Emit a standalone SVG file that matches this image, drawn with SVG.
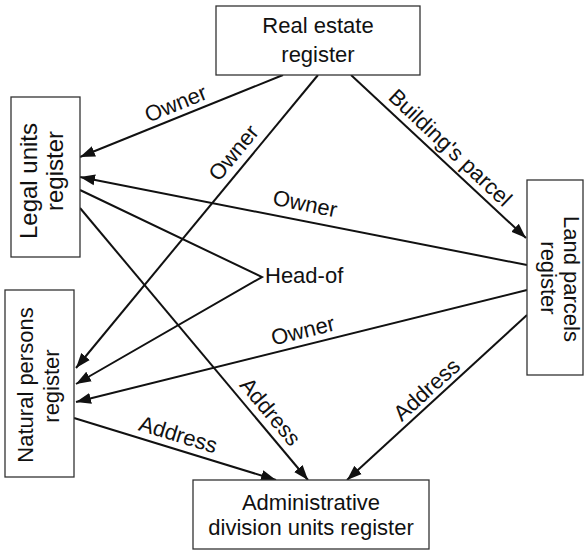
<svg xmlns="http://www.w3.org/2000/svg" width="586" height="552" viewBox="0 0 586 552">
<style>
.box{fill:#fff;stroke:#333;stroke-width:1.3}
.t{font-family:"Liberation Sans",Arial,sans-serif;font-size:22px;fill:#111;text-anchor:middle}
.l{font-family:"Liberation Sans",Arial,sans-serif;font-size:22px;fill:#111;text-anchor:middle}
.c{fill:none;stroke:#111;stroke-width:2}
.a{marker-end:url(#ah)}
</style>
<defs>
<marker id="ah" markerUnits="userSpaceOnUse" markerWidth="16" markerHeight="12" refX="15" refY="5.5" orient="auto" viewBox="0 0 16 11">
<path d="M0,0 L15,5.5 L0,11 z" fill="#111"/>
</marker>
</defs>
<rect width="586" height="552" fill="#fff"/>
<g id="connectors">
<line class="c a" x1="283" y1="75" x2="80" y2="157"/>
<line class="c a" x1="318" y1="75" x2="76" y2="368"/>
<line class="c a" x1="351" y1="75" x2="526" y2="238"/>
<line class="c a" x1="527" y1="265" x2="80" y2="177"/>
<polyline class="c a" points="80,190 262,277 76,384"/>
<line class="c a" x1="80" y1="208" x2="308" y2="480"/>
<line class="c a" x1="527" y1="290" x2="76" y2="402"/>
<line class="c a" x1="74" y1="418" x2="276" y2="480"/>
<line class="c a" x1="527" y1="315" x2="347" y2="480"/>
<text class="l" x="178.6" y="110.5" transform="rotate(-22.2 178.6 110.5)">Owner</text>
<text class="l" x="239.4" y="157.5" transform="rotate(-50.5 239.4 157.5)">Owner</text>
<text class="l" x="445.2" y="153.1" transform="rotate(43.3 445.2 153.1)">Building's parcel</text>
<text class="l" x="303.6" y="211" transform="rotate(11.5 303.6 211)">Owner</text>
<text class="l" x="304.7" y="337.8" transform="rotate(-13.8 304.7 337.8)">Owner</text>
<text class="l" x="264.6" y="416.5" transform="rotate(50 264.6 416.5)">Address</text>
<text class="l" x="176" y="441.7" transform="rotate(16.9 176 441.7)">Address</text>
<text class="l" x="431.7" y="395.2" transform="rotate(-42.3 431.7 395.2)">Address</text>
<text class="l" x="265" y="283" style="text-anchor:start">Head-of</text>
</g>
<g id="real-estate">
<rect class="box" x="216" y="6" width="204" height="69"/>
<text class="t" x="318" y="33">Real estate</text>
<text class="t" x="318" y="62">register</text>
</g>
<g id="legal-units">
<rect class="box" x="11" y="97" width="69" height="160"/>
<text class="t" x="37" y="181" transform="rotate(-90 37 181)" style="font-size:24px">Legal units</text>
<text class="t" x="63" y="171" transform="rotate(-90 63 171)" style="font-size:24px">register</text>
</g>
<g id="natural-persons">
<rect class="box" x="5" y="290" width="69" height="187"/>
<text class="t" x="33" y="385" transform="rotate(-90 33 385)">Natural persons</text>
<text class="t" x="59" y="386" transform="rotate(-90 59 386)">register</text>
</g>
<g id="land-parcels">
<rect class="box" x="527" y="180" width="56" height="195"/>
<text class="t" x="564" y="279" transform="rotate(90 564 279)">Land parcels</text>
<text class="t" x="541" y="278" transform="rotate(90 541 278)">register</text>
</g>
<g id="admin">
<rect class="box" x="193" y="480" width="236" height="69"/>
<text class="t" x="311" y="510">Administrative</text>
<text class="t" x="311" y="535">division units register</text>
</g>
</svg>
